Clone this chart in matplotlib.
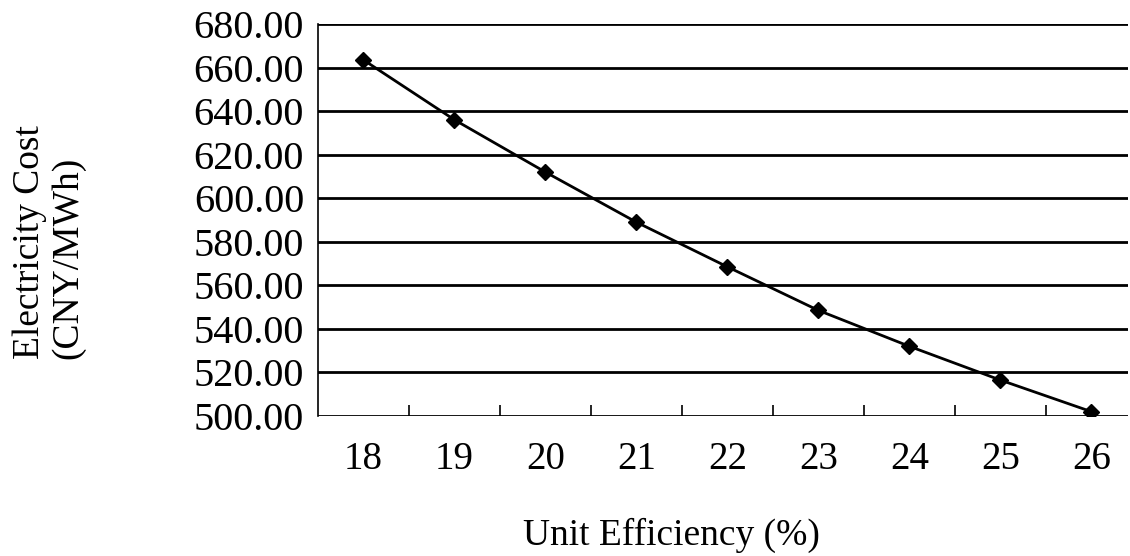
import matplotlib
matplotlib.use('Agg')
import matplotlib.pyplot as plt
import numpy as np

# Data
efficiency = [18, 19, 20, 21, 22, 23, 24, 25, 26]
cost = [663.5, 636.0, 612.0, 589.0, 568.5, 548.5, 532.0, 516.5, 502.0]
y_ticks = list(range(500, 681, 20))

plt.rcParams['font.family'] = ['Liberation Serif', 'DejaVu Serif']

fig = plt.figure(figsize=(11.3, 5.56), dpi=100)
ax = fig.add_axes([0.2814, 0.2518, 0.7166, 0.705])

ax.plot(efficiency, cost, color='black', linewidth=2, marker='D',
        markersize=8, zorder=3)

ax.set_xlim(17.5, 26.4)
ax.set_ylim(500, 680)
ax.set_yticks(y_ticks)
ax.set_yticklabels([f'{v:.2f}' for v in y_ticks])
ax.set_xticks(efficiency)
ax.set_xticks(np.arange(18.5, 26, 1), minor=True)

# horizontal gridlines
for v in y_ticks:
    ax.axhline(v, color='black', linewidth=2, zorder=1)

ax.spines['top'].set_visible(False)
ax.spines['right'].set_visible(False)
ax.spines['bottom'].set_visible(False)
ax.spines['left'].set_linestyle((0, (2, 1)))
ax.spines['left'].set_linewidth(1.2)

ax.tick_params(axis='y', length=0, labelsize=29, pad=10)
ax.tick_params(axis='x', which='major', length=0, labelsize=28, pad=18)
ax.tick_params(axis='x', which='minor', direction='in', length=8, width=1.2)

fig.text(0.043, 1 - 242 / 556, 'Electricity Cost\n(CNY/MWh)', rotation=90,
         fontsize=27, ha='center', va='center', multialignment='left',
         linespacing=1.15)
fig.text(671 / 1130, 1 - 535 / 556, 'Unit Efficiency (%)', fontsize=27,
         ha='center', va='center')

fig.savefig('out.png', dpi=100)
